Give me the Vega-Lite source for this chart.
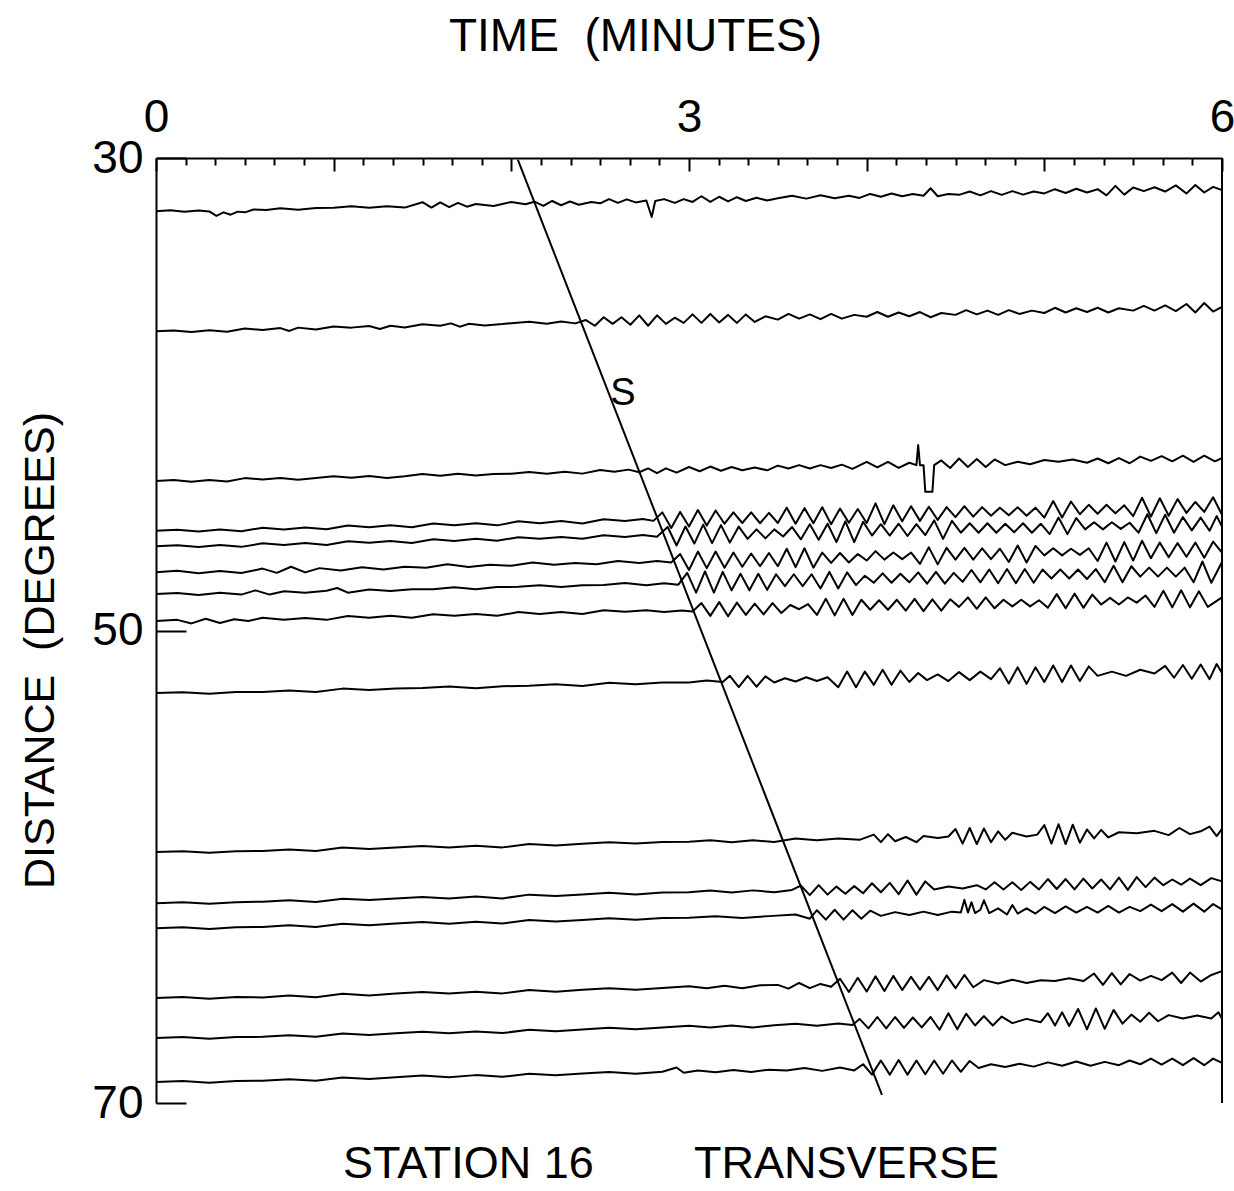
{
"$schema":"https://vega.github.io/schema/vega-lite/v6.json",
"width":1066,"height":945,
"autosize":{"type":"none"},
"padding":{"left":156,"top":158,"right":12,"bottom":88},
"background":"white",
"config":{"view":{"stroke":null},"font":"Liberation Sans","axis":{"grid":false,"domainColor":"black","tickColor":"black","labelColor":"black","titleColor":"black","labelFont":"Liberation Sans","titleFont":"Liberation Sans","titleFontWeight":"normal"}},
"title":{"text":"STATION 16\u00a0\u00a0\u00a0\u00a0\u00a0\u00a0\u00a0\u00a0TRANSVERSE","orient":"bottom","anchor":"middle","frame":"group","offset":52,"baseline":"alphabetic","fontSize":45,"font":"Liberation Sans","fontWeight":"normal","color":"black","dx":-18},
"data":{"values":[
{"k":1,"t":0,"d":32.25},{"k":1,"t":0.08,"d":32.21},{"k":1,"t":0.16,"d":32.28},{"k":1,"t":0.24,"d":32.22},{"k":1,"t":0.3,"d":32.26},{"k":1,"t":0.34,"d":32.45},{"k":1,"t":0.38,"d":32.3},{"k":1,"t":0.42,"d":32.4},{"k":1,"t":0.46,"d":32.27},{"k":1,"t":0.5,"d":32.3},{"k":1,"t":0.55,"d":32.18},{"k":1,"t":0.62,"d":32.2},{"k":1,"t":0.7,"d":32.13},{"k":1,"t":0.8,"d":32.19},{"k":1,"t":0.9,"d":32.12},{"k":1,"t":1,"d":32.11},{"k":1,"t":1.1,"d":32.04},{"k":1,"t":1.2,"d":32.11},{"k":1,"t":1.3,"d":32.04},{"k":1,"t":1.4,"d":32.1},{"k":1,"t":1.5,"d":31.87},{"k":1,"t":1.55,"d":32.1},{"k":1,"t":1.6,"d":31.88},{"k":1,"t":1.65,"d":32.08},{"k":1,"t":1.7,"d":31.9},{"k":1,"t":1.75,"d":32.06},{"k":1,"t":1.8,"d":31.95},{"k":1,"t":1.9,"d":32.03},{"k":1,"t":2,"d":31.86},{"k":1,"t":2.08,"d":31.96},{"k":1,"t":2.13,"d":31.85},{"k":1,"t":2.18,"d":32.03},{"k":1,"t":2.23,"d":31.82},{"k":1,"t":2.28,"d":32},{"k":1,"t":2.33,"d":31.84},{"k":1,"t":2.38,"d":31.98},{"k":1,"t":2.45,"d":31.86},{"k":1,"t":2.5,"d":31.92},{"k":1,"t":2.55,"d":31.74},{"k":1,"t":2.6,"d":31.9},{"k":1,"t":2.65,"d":31.75},{"k":1,"t":2.7,"d":31.88},{"k":1,"t":2.76,"d":31.8},{"k":1,"t":2.79,"d":32.5},{"k":1,"t":2.81,"d":31.82},{"k":1,"t":2.86,"d":31.74},{"k":1,"t":2.92,"d":31.9},{"k":1,"t":2.97,"d":31.74},{"k":1,"t":3.02,"d":31.86},{"k":1,"t":3.07,"d":31.62},{"k":1,"t":3.12,"d":31.86},{"k":1,"t":3.17,"d":31.64},{"k":1,"t":3.22,"d":31.84},{"k":1,"t":3.27,"d":31.66},{"k":1,"t":3.32,"d":31.82},{"k":1,"t":3.38,"d":31.68},{"k":1,"t":3.44,"d":31.8},{"k":1,"t":3.5,"d":31.7},{"k":1,"t":3.58,"d":31.6},{"k":1,"t":3.66,"d":31.72},{"k":1,"t":3.74,"d":31.58},{"k":1,"t":3.82,"d":31.7},{"k":1,"t":3.9,"d":31.6},{"k":1,"t":3.96,"d":31.69},{"k":1,"t":4.02,"d":31.52},{"k":1,"t":4.08,"d":31.64},{"k":1,"t":4.14,"d":31.5},{"k":1,"t":4.2,"d":31.62},{"k":1,"t":4.26,"d":31.52},{"k":1,"t":4.32,"d":31.6},{"k":1,"t":4.36,"d":31.28},{"k":1,"t":4.4,"d":31.62},{"k":1,"t":4.46,"d":31.52},{"k":1,"t":4.52,"d":31.56},{"k":1,"t":4.58,"d":31.42},{"k":1,"t":4.64,"d":31.58},{"k":1,"t":4.7,"d":31.4},{"k":1,"t":4.76,"d":31.56},{"k":1,"t":4.82,"d":31.4},{"k":1,"t":4.88,"d":31.55},{"k":1,"t":4.94,"d":31.42},{"k":1,"t":5,"d":31.5},{"k":1,"t":5.06,"d":31.32},{"k":1,"t":5.12,"d":31.48},{"k":1,"t":5.18,"d":31.3},{"k":1,"t":5.24,"d":31.46},{"k":1,"t":5.3,"d":31.32},{"k":1,"t":5.35,"d":31.58},{"k":1,"t":5.4,"d":31.18},{"k":1,"t":5.45,"d":31.55},{"k":1,"t":5.5,"d":31.25},{"k":1,"t":5.56,"d":31.4},{"k":1,"t":5.62,"d":31.24},{"k":1,"t":5.68,"d":31.42},{"k":1,"t":5.74,"d":31.16},{"k":1,"t":5.8,"d":31.5},{"k":1,"t":5.85,"d":31.14},{"k":1,"t":5.9,"d":31.46},{"k":1,"t":5.95,"d":31.22},{"k":1,"t":6,"d":31.36},
{"k":2,"t":0,"d":37.33},{"k":2,"t":0.1,"d":37.3},{"k":2,"t":0.2,"d":37.36},{"k":2,"t":0.3,"d":37.29},{"k":2,"t":0.4,"d":37.35},{"k":2,"t":0.5,"d":37.22},{"k":2,"t":0.6,"d":37.28},{"k":2,"t":0.7,"d":37.2},{"k":2,"t":0.75,"d":37.32},{"k":2,"t":0.8,"d":37.18},{"k":2,"t":0.9,"d":37.26},{"k":2,"t":1,"d":37.13},{"k":2,"t":1.1,"d":37.18},{"k":2,"t":1.2,"d":37.11},{"k":2,"t":1.26,"d":37.24},{"k":2,"t":1.32,"d":37.1},{"k":2,"t":1.4,"d":37.17},{"k":2,"t":1.5,"d":37.04},{"k":2,"t":1.6,"d":37.1},{"k":2,"t":1.66,"d":37},{"k":2,"t":1.71,"d":37.14},{"k":2,"t":1.76,"d":37.02},{"k":2,"t":1.85,"d":37.09},{"k":2,"t":1.95,"d":37.03},{"k":2,"t":2,"d":36.99},{"k":2,"t":2.1,"d":36.93},{"k":2,"t":2.2,"d":37.02},{"k":2,"t":2.28,"d":36.92},{"k":2,"t":2.36,"d":37},{"k":2,"t":2.42,"d":36.86},{"k":2,"t":2.47,"d":37.1},{"k":2,"t":2.52,"d":36.74},{"k":2,"t":2.57,"d":37.02},{"k":2,"t":2.62,"d":36.74},{"k":2,"t":2.67,"d":37.06},{"k":2,"t":2.72,"d":36.66},{"k":2,"t":2.77,"d":37.1},{"k":2,"t":2.82,"d":36.66},{"k":2,"t":2.87,"d":37.02},{"k":2,"t":2.92,"d":36.76},{"k":2,"t":2.97,"d":36.98},{"k":2,"t":3.02,"d":36.62},{"k":2,"t":3.07,"d":36.98},{"k":2,"t":3.12,"d":36.6},{"k":2,"t":3.17,"d":36.96},{"k":2,"t":3.22,"d":36.64},{"k":2,"t":3.27,"d":36.98},{"k":2,"t":3.32,"d":36.62},{"k":2,"t":3.37,"d":36.94},{"k":2,"t":3.43,"d":36.7},{"k":2,"t":3.5,"d":36.84},{"k":2,"t":3.56,"d":36.6},{"k":2,"t":3.62,"d":36.8},{"k":2,"t":3.68,"d":36.62},{"k":2,"t":3.74,"d":36.82},{"k":2,"t":3.8,"d":36.6},{"k":2,"t":3.86,"d":36.8},{"k":2,"t":3.93,"d":36.64},{"k":2,"t":4,"d":36.72},{"k":2,"t":4.06,"d":36.52},{"k":2,"t":4.12,"d":36.72},{"k":2,"t":4.18,"d":36.54},{"k":2,"t":4.24,"d":36.7},{"k":2,"t":4.3,"d":36.52},{"k":2,"t":4.36,"d":36.74},{"k":2,"t":4.42,"d":36.56},{"k":2,"t":4.5,"d":36.64},{"k":2,"t":4.56,"d":36.44},{"k":2,"t":4.62,"d":36.62},{"k":2,"t":4.68,"d":36.46},{"k":2,"t":4.74,"d":36.64},{"k":2,"t":4.8,"d":36.44},{"k":2,"t":4.86,"d":36.6},{"k":2,"t":4.93,"d":36.46},{"k":2,"t":5,"d":36.56},{"k":2,"t":5.06,"d":36.34},{"k":2,"t":5.12,"d":36.54},{"k":2,"t":5.18,"d":36.36},{"k":2,"t":5.24,"d":36.52},{"k":2,"t":5.3,"d":36.34},{"k":2,"t":5.36,"d":36.54},{"k":2,"t":5.42,"d":36.36},{"k":2,"t":5.5,"d":36.46},{"k":2,"t":5.56,"d":36.26},{"k":2,"t":5.62,"d":36.46},{"k":2,"t":5.68,"d":36.24},{"k":2,"t":5.74,"d":36.48},{"k":2,"t":5.8,"d":36.18},{"k":2,"t":5.85,"d":36.54},{"k":2,"t":5.9,"d":36.14},{"k":2,"t":5.95,"d":36.5},{"k":2,"t":6,"d":36.3},
{"k":3,"t":0,"d":43.67},{"k":3,"t":0.1,"d":43.63},{"k":3,"t":0.2,"d":43.7},{"k":3,"t":0.3,"d":43.63},{"k":3,"t":0.4,"d":43.69},{"k":3,"t":0.5,"d":43.55},{"k":3,"t":0.6,"d":43.61},{"k":3,"t":0.7,"d":43.54},{"k":3,"t":0.8,"d":43.62},{"k":3,"t":0.9,"d":43.55},{"k":3,"t":1,"d":43.47},{"k":3,"t":1.1,"d":43.53},{"k":3,"t":1.2,"d":43.46},{"k":3,"t":1.3,"d":43.54},{"k":3,"t":1.4,"d":43.47},{"k":3,"t":1.5,"d":43.38},{"k":3,"t":1.6,"d":43.45},{"k":3,"t":1.7,"d":43.37},{"k":3,"t":1.8,"d":43.44},{"k":3,"t":1.9,"d":43.38},{"k":3,"t":2,"d":43.36},{"k":3,"t":2.1,"d":43.29},{"k":3,"t":2.2,"d":43.37},{"k":3,"t":2.3,"d":43.28},{"k":3,"t":2.4,"d":43.36},{"k":3,"t":2.5,"d":43.21},{"k":3,"t":2.58,"d":43.28},{"k":3,"t":2.66,"d":43.19},{"k":3,"t":2.72,"d":43.3},{"k":3,"t":2.77,"d":43.14},{"k":3,"t":2.82,"d":43.34},{"k":3,"t":2.87,"d":43.14},{"k":3,"t":2.93,"d":43.32},{"k":3,"t":3,"d":43.08},{"k":3,"t":3.06,"d":43.26},{"k":3,"t":3.12,"d":43.06},{"k":3,"t":3.18,"d":43.24},{"k":3,"t":3.24,"d":43.08},{"k":3,"t":3.3,"d":43.22},{"k":3,"t":3.37,"d":43.1},{"k":3,"t":3.44,"d":43.22},{"k":3,"t":3.5,"d":43.02},{"k":3,"t":3.56,"d":43.14},{"k":3,"t":3.62,"d":43},{"k":3,"t":3.68,"d":43.14},{"k":3,"t":3.74,"d":43},{"k":3,"t":3.8,"d":43.12},{"k":3,"t":3.86,"d":42.98},{"k":3,"t":3.92,"d":43.16},{"k":3,"t":4,"d":42.86},{"k":3,"t":4.06,"d":43.1},{"k":3,"t":4.12,"d":42.86},{"k":3,"t":4.18,"d":43.12},{"k":3,"t":4.24,"d":42.9},{"k":3,"t":4.28,"d":43},{"k":3,"t":4.29,"d":42.15},{"k":3,"t":4.3,"d":43},{"k":3,"t":4.32,"d":43},{"k":3,"t":4.33,"d":44.13},{"k":3,"t":4.37,"d":44.13},{"k":3,"t":4.38,"d":43},{"k":3,"t":4.42,"d":42.8},{"k":3,"t":4.47,"d":43.12},{"k":3,"t":4.52,"d":42.72},{"k":3,"t":4.57,"d":43.08},{"k":3,"t":4.62,"d":42.74},{"k":3,"t":4.67,"d":43.08},{"k":3,"t":4.72,"d":42.76},{"k":3,"t":4.78,"d":43},{"k":3,"t":4.85,"d":42.86},{"k":3,"t":4.92,"d":42.96},{"k":3,"t":5,"d":42.78},{"k":3,"t":5.08,"d":42.86},{"k":3,"t":5.16,"d":42.76},{"k":3,"t":5.24,"d":42.9},{"k":3,"t":5.3,"d":42.72},{"k":3,"t":5.36,"d":42.92},{"k":3,"t":5.42,"d":42.7},{"k":3,"t":5.48,"d":42.92},{"k":3,"t":5.54,"d":42.64},{"k":3,"t":5.6,"d":42.82},{"k":3,"t":5.66,"d":42.62},{"k":3,"t":5.72,"d":42.84},{"k":3,"t":5.78,"d":42.6},{"k":3,"t":5.84,"d":42.86},{"k":3,"t":5.9,"d":42.6},{"k":3,"t":5.96,"d":42.84},{"k":3,"t":6,"d":42.7},
{"k":4,"t":0,"d":45.78},{"k":4,"t":0.12,"d":45.74},{"k":4,"t":0.24,"d":45.81},{"k":4,"t":0.36,"d":45.73},{"k":4,"t":0.48,"d":45.8},{"k":4,"t":0.6,"d":45.65},{"k":4,"t":0.72,"d":45.72},{"k":4,"t":0.84,"d":45.64},{"k":4,"t":0.96,"d":45.71},{"k":4,"t":1.08,"d":45.56},{"k":4,"t":1.2,"d":45.63},{"k":4,"t":1.32,"d":45.55},{"k":4,"t":1.44,"d":45.63},{"k":4,"t":1.56,"d":45.47},{"k":4,"t":1.68,"d":45.54},{"k":4,"t":1.8,"d":45.46},{"k":4,"t":1.92,"d":45.55},{"k":4,"t":2.04,"d":45.38},{"k":4,"t":2.16,"d":45.46},{"k":4,"t":2.28,"d":45.37},{"k":4,"t":2.4,"d":45.47},{"k":4,"t":2.52,"d":45.29},{"k":4,"t":2.64,"d":45.37},{"k":4,"t":2.74,"d":45.28},{"k":4,"t":2.8,"d":45.36},{"k":4,"t":2.85,"d":45},{"k":4,"t":2.9,"d":45.66},{"k":4,"t":2.95,"d":44.98},{"k":4,"t":3,"d":45.6},{"k":4,"t":3.05,"d":44.9},{"k":4,"t":3.1,"d":45.56},{"k":4,"t":3.15,"d":44.92},{"k":4,"t":3.2,"d":45.48},{"k":4,"t":3.25,"d":45},{"k":4,"t":3.3,"d":45.45},{"k":4,"t":3.35,"d":45},{"k":4,"t":3.4,"d":45.46},{"k":4,"t":3.45,"d":45.02},{"k":4,"t":3.5,"d":45.45},{"k":4,"t":3.55,"d":44.8},{"k":4,"t":3.6,"d":45.48},{"k":4,"t":3.65,"d":44.82},{"k":4,"t":3.7,"d":45.46},{"k":4,"t":3.75,"d":44.78},{"k":4,"t":3.8,"d":45.5},{"k":4,"t":3.85,"d":44.84},{"k":4,"t":3.9,"d":45.44},{"k":4,"t":3.95,"d":44.86},{"k":4,"t":4,"d":45.45},{"k":4,"t":4.05,"d":44.62},{"k":4,"t":4.1,"d":45.5},{"k":4,"t":4.15,"d":44.7},{"k":4,"t":4.2,"d":45.38},{"k":4,"t":4.25,"d":44.74},{"k":4,"t":4.3,"d":45.36},{"k":4,"t":4.35,"d":44.76},{"k":4,"t":4.4,"d":45.32},{"k":4,"t":4.45,"d":44.78},{"k":4,"t":4.5,"d":45.2},{"k":4,"t":4.55,"d":44.74},{"k":4,"t":4.6,"d":45.18},{"k":4,"t":4.65,"d":44.78},{"k":4,"t":4.7,"d":45.14},{"k":4,"t":4.75,"d":44.8},{"k":4,"t":4.8,"d":45.12},{"k":4,"t":4.85,"d":44.78},{"k":4,"t":4.9,"d":45.14},{"k":4,"t":4.95,"d":44.8},{"k":4,"t":5,"d":45.22},{"k":4,"t":5.05,"d":44.52},{"k":4,"t":5.1,"d":45.22},{"k":4,"t":5.15,"d":44.54},{"k":4,"t":5.2,"d":45.08},{"k":4,"t":5.25,"d":44.68},{"k":4,"t":5.3,"d":45.06},{"k":4,"t":5.35,"d":44.68},{"k":4,"t":5.4,"d":45.04},{"k":4,"t":5.45,"d":44.7},{"k":4,"t":5.5,"d":45.16},{"k":4,"t":5.55,"d":44.38},{"k":4,"t":5.6,"d":45.18},{"k":4,"t":5.65,"d":44.4},{"k":4,"t":5.7,"d":45.14},{"k":4,"t":5.75,"d":44.44},{"k":4,"t":5.8,"d":45.02},{"k":4,"t":5.85,"d":44.56},{"k":4,"t":5.9,"d":44.98},{"k":4,"t":5.95,"d":44.36},{"k":4,"t":6,"d":45.1},
{"k":5,"t":0,"d":46.43},{"k":5,"t":0.12,"d":46.39},{"k":5,"t":0.24,"d":46.47},{"k":5,"t":0.36,"d":46.38},{"k":5,"t":0.48,"d":46.46},{"k":5,"t":0.6,"d":46.31},{"k":5,"t":0.72,"d":46.38},{"k":5,"t":0.84,"d":46.3},{"k":5,"t":0.96,"d":46.38},{"k":5,"t":1.08,"d":46.22},{"k":5,"t":1.2,"d":46.29},{"k":5,"t":1.32,"d":46.21},{"k":5,"t":1.44,"d":46.3},{"k":5,"t":1.56,"d":46.14},{"k":5,"t":1.68,"d":46.21},{"k":5,"t":1.8,"d":46.12},{"k":5,"t":1.92,"d":46.2},{"k":5,"t":2.04,"d":46.05},{"k":5,"t":2.16,"d":46.12},{"k":5,"t":2.28,"d":46.04},{"k":5,"t":2.4,"d":46.12},{"k":5,"t":2.52,"d":45.97},{"k":5,"t":2.64,"d":46.04},{"k":5,"t":2.74,"d":45.96},{"k":5,"t":2.82,"d":46.03},{"k":5,"t":2.88,"d":45.62},{"k":5,"t":2.93,"d":46.4},{"k":5,"t":2.98,"d":45.6},{"k":5,"t":3.03,"d":46.32},{"k":5,"t":3.08,"d":45.52},{"k":5,"t":3.13,"d":46.3},{"k":5,"t":3.18,"d":45.54},{"k":5,"t":3.23,"d":46.28},{"k":5,"t":3.28,"d":45.6},{"k":5,"t":3.33,"d":46.12},{"k":5,"t":3.38,"d":45.72},{"k":5,"t":3.43,"d":46.1},{"k":5,"t":3.48,"d":45.72},{"k":5,"t":3.53,"d":46.02},{"k":5,"t":3.58,"d":45.62},{"k":5,"t":3.63,"d":46.14},{"k":5,"t":3.68,"d":45.5},{"k":5,"t":3.73,"d":46.16},{"k":5,"t":3.78,"d":45.48},{"k":5,"t":3.83,"d":46.26},{"k":5,"t":3.88,"d":45.38},{"k":5,"t":3.93,"d":46.26},{"k":5,"t":3.98,"d":45.4},{"k":5,"t":4.03,"d":45.98},{"k":5,"t":4.08,"d":45.5},{"k":5,"t":4.13,"d":45.98},{"k":5,"t":4.18,"d":45.48},{"k":5,"t":4.23,"d":46},{"k":5,"t":4.28,"d":45.5},{"k":5,"t":4.33,"d":45.96},{"k":5,"t":4.38,"d":45.34},{"k":5,"t":4.43,"d":46.12},{"k":5,"t":4.48,"d":45.36},{"k":5,"t":4.53,"d":45.86},{"k":5,"t":4.58,"d":45.46},{"k":5,"t":4.63,"d":45.86},{"k":5,"t":4.68,"d":45.46},{"k":5,"t":4.73,"d":45.86},{"k":5,"t":4.78,"d":45.48},{"k":5,"t":4.83,"d":45.84},{"k":5,"t":4.88,"d":45.46},{"k":5,"t":4.93,"d":45.86},{"k":5,"t":4.98,"d":45.48},{"k":5,"t":5.03,"d":45.92},{"k":5,"t":5.08,"d":45.22},{"k":5,"t":5.13,"d":45.92},{"k":5,"t":5.18,"d":45.24},{"k":5,"t":5.23,"d":45.72},{"k":5,"t":5.28,"d":45.42},{"k":5,"t":5.33,"d":45.72},{"k":5,"t":5.38,"d":45.42},{"k":5,"t":5.43,"d":45.7},{"k":5,"t":5.48,"d":45.44},{"k":5,"t":5.53,"d":45.86},{"k":5,"t":5.58,"d":45.08},{"k":5,"t":5.63,"d":45.88},{"k":5,"t":5.68,"d":45.1},{"k":5,"t":5.73,"d":45.86},{"k":5,"t":5.78,"d":45.2},{"k":5,"t":5.83,"d":45.76},{"k":5,"t":5.88,"d":45.22},{"k":5,"t":5.93,"d":45.78},{"k":5,"t":5.97,"d":45.16},{"k":5,"t":6,"d":45.6},
{"k":6,"t":0,"d":47.53},{"k":6,"t":0.12,"d":47.47},{"k":6,"t":0.24,"d":47.58},{"k":6,"t":0.36,"d":47.48},{"k":6,"t":0.48,"d":47.57},{"k":6,"t":0.6,"d":47.38},{"k":6,"t":0.68,"d":47.56},{"k":6,"t":0.76,"d":47.3},{"k":6,"t":0.84,"d":47.54},{"k":6,"t":0.92,"d":47.36},{"k":6,"t":1.04,"d":47.46},{"k":6,"t":1.16,"d":47.32},{"k":6,"t":1.28,"d":47.42},{"k":6,"t":1.4,"d":47.3},{"k":6,"t":1.52,"d":47.34},{"k":6,"t":1.64,"d":47.2},{"k":6,"t":1.76,"d":47.31},{"k":6,"t":1.88,"d":47.22},{"k":6,"t":2,"d":47.26},{"k":6,"t":2.12,"d":47.12},{"k":6,"t":2.24,"d":47.22},{"k":6,"t":2.36,"d":47.14},{"k":6,"t":2.48,"d":47.2},{"k":6,"t":2.6,"d":47.06},{"k":6,"t":2.72,"d":47.14},{"k":6,"t":2.82,"d":47.06},{"k":6,"t":2.9,"d":47.12},{"k":6,"t":2.95,"d":46.76},{"k":6,"t":3,"d":47.44},{"k":6,"t":3.05,"d":46.66},{"k":6,"t":3.1,"d":47.36},{"k":6,"t":3.15,"d":46.66},{"k":6,"t":3.2,"d":47.34},{"k":6,"t":3.25,"d":46.7},{"k":6,"t":3.3,"d":47.3},{"k":6,"t":3.35,"d":46.74},{"k":6,"t":3.4,"d":47.28},{"k":6,"t":3.45,"d":46.72},{"k":6,"t":3.5,"d":47.28},{"k":6,"t":3.55,"d":46.54},{"k":6,"t":3.6,"d":47.32},{"k":6,"t":3.65,"d":46.52},{"k":6,"t":3.7,"d":47.34},{"k":6,"t":3.75,"d":46.7},{"k":6,"t":3.8,"d":47.14},{"k":6,"t":3.85,"d":46.72},{"k":6,"t":3.9,"d":47.12},{"k":6,"t":3.95,"d":46.76},{"k":6,"t":4,"d":47.04},{"k":6,"t":4.05,"d":46.64},{"k":6,"t":4.1,"d":47},{"k":6,"t":4.15,"d":46.7},{"k":6,"t":4.2,"d":46.98},{"k":6,"t":4.25,"d":46.7},{"k":6,"t":4.3,"d":47.18},{"k":6,"t":4.35,"d":46.48},{"k":6,"t":4.4,"d":47.2},{"k":6,"t":4.45,"d":46.5},{"k":6,"t":4.5,"d":47},{"k":6,"t":4.55,"d":46.5},{"k":6,"t":4.6,"d":47},{"k":6,"t":4.65,"d":46.52},{"k":6,"t":4.7,"d":46.98},{"k":6,"t":4.75,"d":46.54},{"k":6,"t":4.8,"d":47.1},{"k":6,"t":4.85,"d":46.4},{"k":6,"t":4.9,"d":47.12},{"k":6,"t":4.95,"d":46.42},{"k":6,"t":5,"d":46.82},{"k":6,"t":5.05,"d":46.52},{"k":6,"t":5.1,"d":46.82},{"k":6,"t":5.15,"d":46.54},{"k":6,"t":5.2,"d":46.8},{"k":6,"t":5.25,"d":46.52},{"k":6,"t":5.3,"d":47.06},{"k":6,"t":5.35,"d":46.28},{"k":6,"t":5.4,"d":47.08},{"k":6,"t":5.45,"d":46.26},{"k":6,"t":5.5,"d":47.04},{"k":6,"t":5.55,"d":46.2},{"k":6,"t":5.6,"d":46.94},{"k":6,"t":5.65,"d":46.28},{"k":6,"t":5.7,"d":46.9},{"k":6,"t":5.75,"d":46.3},{"k":6,"t":5.8,"d":46.88},{"k":6,"t":5.85,"d":46.28},{"k":6,"t":5.9,"d":46.92},{"k":6,"t":5.95,"d":46.24},{"k":6,"t":6,"d":46.7},
{"k":7,"t":0,"d":48.46},{"k":7,"t":0.12,"d":48.41},{"k":7,"t":0.24,"d":48.5},{"k":7,"t":0.36,"d":48.4},{"k":7,"t":0.48,"d":48.48},{"k":7,"t":0.56,"d":48.3},{"k":7,"t":0.64,"d":48.48},{"k":7,"t":0.72,"d":48.34},{"k":7,"t":0.84,"d":48.4},{"k":7,"t":0.96,"d":48.32},{"k":7,"t":1.02,"d":48.2},{"k":7,"t":1.08,"d":48.4},{"k":7,"t":1.2,"d":48.26},{"k":7,"t":1.32,"d":48.33},{"k":7,"t":1.44,"d":48.25},{"k":7,"t":1.56,"d":48.25},{"k":7,"t":1.68,"d":48.17},{"k":7,"t":1.8,"d":48.25},{"k":7,"t":1.92,"d":48.16},{"k":7,"t":2.04,"d":48.15},{"k":7,"t":2.16,"d":48.08},{"k":7,"t":2.28,"d":48.16},{"k":7,"t":2.4,"d":48.08},{"k":7,"t":2.52,"d":48.07},{"k":7,"t":2.64,"d":47.99},{"k":7,"t":2.76,"d":48.08},{"k":7,"t":2.86,"d":48},{"k":7,"t":2.94,"d":48.06},{"k":7,"t":2.99,"d":47.56},{"k":7,"t":3.04,"d":48.4},{"k":7,"t":3.09,"d":47.5},{"k":7,"t":3.14,"d":48.4},{"k":7,"t":3.19,"d":47.52},{"k":7,"t":3.24,"d":48.3},{"k":7,"t":3.29,"d":47.6},{"k":7,"t":3.34,"d":48.3},{"k":7,"t":3.39,"d":47.6},{"k":7,"t":3.44,"d":48.28},{"k":7,"t":3.49,"d":47.62},{"k":7,"t":3.54,"d":48.12},{"k":7,"t":3.59,"d":47.62},{"k":7,"t":3.64,"d":48.12},{"k":7,"t":3.69,"d":47.62},{"k":7,"t":3.74,"d":48.22},{"k":7,"t":3.79,"d":47.52},{"k":7,"t":3.84,"d":48.22},{"k":7,"t":3.89,"d":47.54},{"k":7,"t":3.94,"d":48.08},{"k":7,"t":3.99,"d":47.68},{"k":7,"t":4.04,"d":47.98},{"k":7,"t":4.09,"d":47.58},{"k":7,"t":4.14,"d":47.98},{"k":7,"t":4.19,"d":47.6},{"k":7,"t":4.24,"d":47.96},{"k":7,"t":4.29,"d":47.54},{"k":7,"t":4.34,"d":48.02},{"k":7,"t":4.39,"d":47.52},{"k":7,"t":4.44,"d":48.02},{"k":7,"t":4.49,"d":47.56},{"k":7,"t":4.54,"d":47.94},{"k":7,"t":4.59,"d":47.44},{"k":7,"t":4.64,"d":47.96},{"k":7,"t":4.69,"d":47.42},{"k":7,"t":4.74,"d":48},{"k":7,"t":4.79,"d":47.4},{"k":7,"t":4.84,"d":48},{"k":7,"t":4.89,"d":47.4},{"k":7,"t":4.94,"d":47.98},{"k":7,"t":4.99,"d":47.42},{"k":7,"t":5.04,"d":47.8},{"k":7,"t":5.09,"d":47.42},{"k":7,"t":5.14,"d":47.8},{"k":7,"t":5.19,"d":47.42},{"k":7,"t":5.24,"d":47.82},{"k":7,"t":5.29,"d":47.4},{"k":7,"t":5.34,"d":47.96},{"k":7,"t":5.39,"d":47.26},{"k":7,"t":5.44,"d":47.96},{"k":7,"t":5.49,"d":47.28},{"k":7,"t":5.54,"d":47.72},{"k":7,"t":5.59,"d":47.34},{"k":7,"t":5.64,"d":47.72},{"k":7,"t":5.69,"d":47.34},{"k":7,"t":5.74,"d":47.72},{"k":7,"t":5.79,"d":47.34},{"k":7,"t":5.84,"d":47.96},{"k":7,"t":5.89,"d":47.08},{"k":7,"t":5.94,"d":47.98},{"k":7,"t":6,"d":47.1},
{"k":8,"t":0,"d":49.6},{"k":8,"t":0.12,"d":49.55},{"k":8,"t":0.2,"d":49.7},{"k":8,"t":0.28,"d":49.5},{"k":8,"t":0.36,"d":49.68},{"k":8,"t":0.44,"d":49.52},{"k":8,"t":0.52,"d":49.6},{"k":8,"t":0.6,"d":49.46},{"k":8,"t":0.72,"d":49.54},{"k":8,"t":0.84,"d":49.47},{"k":8,"t":0.96,"d":49.55},{"k":8,"t":1.08,"d":49.39},{"k":8,"t":1.2,"d":49.46},{"k":8,"t":1.32,"d":49.38},{"k":8,"t":1.44,"d":49.46},{"k":8,"t":1.56,"d":49.31},{"k":8,"t":1.68,"d":49.38},{"k":8,"t":1.8,"d":49.3},{"k":8,"t":1.92,"d":49.38},{"k":8,"t":2.04,"d":49.22},{"k":8,"t":2.16,"d":49.3},{"k":8,"t":2.28,"d":49.22},{"k":8,"t":2.4,"d":49.3},{"k":8,"t":2.52,"d":49.14},{"k":8,"t":2.64,"d":49.21},{"k":8,"t":2.76,"d":49.14},{"k":8,"t":2.86,"d":49.22},{"k":8,"t":2.96,"d":49.15},{"k":8,"t":3.02,"d":49.2},{"k":8,"t":3.07,"d":48.84},{"k":8,"t":3.12,"d":49.38},{"k":8,"t":3.17,"d":48.8},{"k":8,"t":3.22,"d":49.4},{"k":8,"t":3.27,"d":48.82},{"k":8,"t":3.32,"d":49.34},{"k":8,"t":3.37,"d":48.86},{"k":8,"t":3.42,"d":49.32},{"k":8,"t":3.47,"d":48.84},{"k":8,"t":3.52,"d":49.26},{"k":8,"t":3.57,"d":48.92},{"k":8,"t":3.62,"d":49.1},{"k":8,"t":3.67,"d":48.88},{"k":8,"t":3.72,"d":49.34},{"k":8,"t":3.77,"d":48.66},{"k":8,"t":3.82,"d":49.36},{"k":8,"t":3.87,"d":48.66},{"k":8,"t":3.92,"d":49.34},{"k":8,"t":3.97,"d":48.7},{"k":8,"t":4.02,"d":49.12},{"k":8,"t":4.07,"d":48.72},{"k":8,"t":4.12,"d":49.12},{"k":8,"t":4.17,"d":48.7},{"k":8,"t":4.22,"d":49.16},{"k":8,"t":4.27,"d":48.66},{"k":8,"t":4.32,"d":49.18},{"k":8,"t":4.37,"d":48.68},{"k":8,"t":4.42,"d":49.16},{"k":8,"t":4.47,"d":48.68},{"k":8,"t":4.52,"d":49},{"k":8,"t":4.57,"d":48.6},{"k":8,"t":4.62,"d":49.08},{"k":8,"t":4.67,"d":48.6},{"k":8,"t":4.72,"d":49.06},{"k":8,"t":4.77,"d":48.7},{"k":8,"t":4.82,"d":48.98},{"k":8,"t":4.87,"d":48.7},{"k":8,"t":4.92,"d":48.98},{"k":8,"t":4.97,"d":48.72},{"k":8,"t":5.02,"d":49.04},{"k":8,"t":5.07,"d":48.46},{"k":8,"t":5.12,"d":49.06},{"k":8,"t":5.17,"d":48.44},{"k":8,"t":5.22,"d":49.04},{"k":8,"t":5.27,"d":48.48},{"k":8,"t":5.32,"d":48.9},{"k":8,"t":5.37,"d":48.62},{"k":8,"t":5.42,"d":48.9},{"k":8,"t":5.47,"d":48.6},{"k":8,"t":5.52,"d":48.82},{"k":8,"t":5.57,"d":48.52},{"k":8,"t":5.62,"d":49},{"k":8,"t":5.67,"d":48.32},{"k":8,"t":5.72,"d":49.02},{"k":8,"t":5.77,"d":48.3},{"k":8,"t":5.82,"d":49.02},{"k":8,"t":5.87,"d":48.34},{"k":8,"t":5.92,"d":49},{"k":8,"t":6,"d":48.6},
{"k":9,"t":0,"d":52.65},{"k":9,"t":0.15,"d":52.61},{"k":9,"t":0.3,"d":52.68},{"k":9,"t":0.45,"d":52.6},{"k":9,"t":0.6,"d":52.6},{"k":9,"t":0.75,"d":52.54},{"k":9,"t":0.9,"d":52.6},{"k":9,"t":1.05,"d":52.46},{"k":9,"t":1.2,"d":52.52},{"k":9,"t":1.35,"d":52.45},{"k":9,"t":1.5,"d":52.43},{"k":9,"t":1.65,"d":52.37},{"k":9,"t":1.8,"d":52.44},{"k":9,"t":1.95,"d":52.36},{"k":9,"t":2.1,"d":52.34},{"k":9,"t":2.25,"d":52.28},{"k":9,"t":2.4,"d":52.35},{"k":9,"t":2.55,"d":52.21},{"k":9,"t":2.7,"d":52.27},{"k":9,"t":2.85,"d":52.2},{"k":9,"t":3,"d":52.2},{"k":9,"t":3.1,"d":52.12},{"k":9,"t":3.19,"d":52.18},{"k":9,"t":3.23,"d":51.92},{"k":9,"t":3.28,"d":52.4},{"k":9,"t":3.33,"d":51.92},{"k":9,"t":3.38,"d":52.38},{"k":9,"t":3.43,"d":51.94},{"k":9,"t":3.48,"d":52.2},{"k":9,"t":3.54,"d":52.02},{"k":9,"t":3.6,"d":52.16},{"k":9,"t":3.66,"d":51.98},{"k":9,"t":3.72,"d":52.14},{"k":9,"t":3.78,"d":51.98},{"k":9,"t":3.84,"d":52.4},{"k":9,"t":3.89,"d":51.74},{"k":9,"t":3.94,"d":52.4},{"k":9,"t":3.99,"d":51.74},{"k":9,"t":4.04,"d":52.3},{"k":9,"t":4.09,"d":51.66},{"k":9,"t":4.14,"d":52.3},{"k":9,"t":4.19,"d":51.7},{"k":9,"t":4.24,"d":52.18},{"k":9,"t":4.29,"d":51.8},{"k":9,"t":4.34,"d":52.1},{"k":9,"t":4.4,"d":51.86},{"k":9,"t":4.46,"d":52.14},{"k":9,"t":4.52,"d":51.76},{"k":9,"t":4.58,"d":52.1},{"k":9,"t":4.64,"d":51.74},{"k":9,"t":4.7,"d":52.06},{"k":9,"t":4.75,"d":51.6},{"k":9,"t":4.8,"d":52.24},{"k":9,"t":4.85,"d":51.56},{"k":9,"t":4.9,"d":52.26},{"k":9,"t":4.95,"d":51.56},{"k":9,"t":5,"d":52.18},{"k":9,"t":5.05,"d":51.48},{"k":9,"t":5.1,"d":52.18},{"k":9,"t":5.15,"d":51.48},{"k":9,"t":5.2,"d":52.14},{"k":9,"t":5.25,"d":51.52},{"k":9,"t":5.3,"d":51.92},{"k":9,"t":5.38,"d":51.74},{"k":9,"t":5.46,"d":51.92},{"k":9,"t":5.54,"d":51.66},{"k":9,"t":5.62,"d":51.82},{"k":9,"t":5.68,"d":51.5},{"k":9,"t":5.73,"d":52},{"k":9,"t":5.78,"d":51.46},{"k":9,"t":5.83,"d":52.04},{"k":9,"t":5.88,"d":51.44},{"k":9,"t":5.93,"d":52.06},{"k":9,"t":5.97,"d":51.42},{"k":9,"t":6,"d":51.8},
{"k":10,"t":0,"d":59.38},{"k":10,"t":0.15,"d":59.34},{"k":10,"t":0.3,"d":59.41},{"k":10,"t":0.45,"d":59.34},{"k":10,"t":0.6,"d":59.33},{"k":10,"t":0.75,"d":59.27},{"k":10,"t":0.9,"d":59.33},{"k":10,"t":1.05,"d":59.19},{"k":10,"t":1.2,"d":59.25},{"k":10,"t":1.35,"d":59.18},{"k":10,"t":1.5,"d":59.12},{"k":10,"t":1.65,"d":59.18},{"k":10,"t":1.8,"d":59.11},{"k":10,"t":1.95,"d":59.18},{"k":10,"t":2.1,"d":59.04},{"k":10,"t":2.25,"d":59.1},{"k":10,"t":2.4,"d":59.03},{"k":10,"t":2.55,"d":58.96},{"k":10,"t":2.7,"d":59.02},{"k":10,"t":2.85,"d":58.95},{"k":10,"t":3,"d":58.94},{"k":10,"t":3.12,"d":58.88},{"k":10,"t":3.24,"d":58.96},{"k":10,"t":3.36,"d":58.88},{"k":10,"t":3.48,"d":58.95},{"k":10,"t":3.6,"d":58.8},{"k":10,"t":3.72,"d":58.88},{"k":10,"t":3.84,"d":58.8},{"k":10,"t":3.96,"d":58.86},{"k":10,"t":4.04,"d":58.64},{"k":10,"t":4.08,"d":58.96},{"k":10,"t":4.12,"d":58.62},{"k":10,"t":4.16,"d":58.92},{"k":10,"t":4.22,"d":58.74},{"k":10,"t":4.28,"d":58.96},{"k":10,"t":4.32,"d":58.7},{"k":10,"t":4.4,"d":58.78},{"k":10,"t":4.46,"d":58.72},{"k":10,"t":4.5,"d":58.4},{"k":10,"t":4.54,"d":59.02},{"k":10,"t":4.58,"d":58.36},{"k":10,"t":4.62,"d":59.04},{"k":10,"t":4.66,"d":58.38},{"k":10,"t":4.7,"d":58.96},{"k":10,"t":4.74,"d":58.5},{"k":10,"t":4.78,"d":58.86},{"k":10,"t":4.82,"d":58.56},{"k":10,"t":4.9,"d":58.72},{"k":10,"t":4.96,"d":58.64},{"k":10,"t":5,"d":58.24},{"k":10,"t":5.04,"d":59.02},{"k":10,"t":5.08,"d":58.2},{"k":10,"t":5.12,"d":59.04},{"k":10,"t":5.16,"d":58.22},{"k":10,"t":5.2,"d":58.98},{"k":10,"t":5.24,"d":58.42},{"k":10,"t":5.28,"d":58.8},{"k":10,"t":5.32,"d":58.44},{"k":10,"t":5.36,"d":58.76},{"k":10,"t":5.42,"d":58.54},{"k":10,"t":5.52,"d":58.58},{"k":10,"t":5.62,"d":58.48},{"k":10,"t":5.7,"d":58.66},{"k":10,"t":5.76,"d":58.36},{"k":10,"t":5.82,"d":58.62},{"k":10,"t":5.88,"d":58.5},{"k":10,"t":5.93,"d":58.3},{"k":10,"t":5.97,"d":58.7},{"k":10,"t":6,"d":58.4},
{"k":11,"t":0,"d":61.54},{"k":11,"t":0.15,"d":61.5},{"k":11,"t":0.3,"d":61.57},{"k":11,"t":0.45,"d":61.5},{"k":11,"t":0.6,"d":61.48},{"k":11,"t":0.75,"d":61.42},{"k":11,"t":0.9,"d":61.49},{"k":11,"t":1.05,"d":61.35},{"k":11,"t":1.2,"d":61.41},{"k":11,"t":1.35,"d":61.34},{"k":11,"t":1.5,"d":61.28},{"k":11,"t":1.65,"d":61.34},{"k":11,"t":1.8,"d":61.26},{"k":11,"t":1.95,"d":61.34},{"k":11,"t":2.1,"d":61.18},{"k":11,"t":2.25,"d":61.24},{"k":11,"t":2.4,"d":61.17},{"k":11,"t":2.55,"d":61.1},{"k":11,"t":2.7,"d":61.17},{"k":11,"t":2.85,"d":61.09},{"k":11,"t":3,"d":61.08},{"k":11,"t":3.12,"d":61.01},{"k":11,"t":3.24,"d":61.09},{"k":11,"t":3.36,"d":61},{"k":11,"t":3.48,"d":61.08},{"k":11,"t":3.58,"d":60.98},{"k":11,"t":3.63,"d":60.8},{"k":11,"t":3.68,"d":61.2},{"k":11,"t":3.73,"d":60.78},{"k":11,"t":3.78,"d":61.18},{"k":11,"t":3.83,"d":60.84},{"k":11,"t":3.88,"d":61.14},{"k":11,"t":3.93,"d":60.82},{"k":11,"t":3.98,"d":61.12},{"k":11,"t":4.03,"d":60.7},{"k":11,"t":4.08,"d":61.08},{"k":11,"t":4.13,"d":60.68},{"k":11,"t":4.18,"d":61.16},{"k":11,"t":4.23,"d":60.58},{"k":11,"t":4.28,"d":61.18},{"k":11,"t":4.33,"d":60.62},{"k":11,"t":4.38,"d":60.96},{"k":11,"t":4.46,"d":60.84},{"k":11,"t":4.54,"d":60.92},{"k":11,"t":4.62,"d":60.78},{"k":11,"t":4.67,"d":60.96},{"k":11,"t":4.72,"d":60.66},{"k":11,"t":4.77,"d":60.96},{"k":11,"t":4.82,"d":60.66},{"k":11,"t":4.87,"d":60.98},{"k":11,"t":4.92,"d":60.64},{"k":11,"t":4.97,"d":60.96},{"k":11,"t":5.02,"d":60.52},{"k":11,"t":5.07,"d":60.94},{"k":11,"t":5.12,"d":60.52},{"k":11,"t":5.17,"d":60.96},{"k":11,"t":5.22,"d":60.5},{"k":11,"t":5.27,"d":60.92},{"k":11,"t":5.32,"d":60.54},{"k":11,"t":5.37,"d":60.96},{"k":11,"t":5.42,"d":60.46},{"k":11,"t":5.47,"d":60.98},{"k":11,"t":5.52,"d":60.44},{"k":11,"t":5.57,"d":60.86},{"k":11,"t":5.62,"d":60.46},{"k":11,"t":5.67,"d":60.78},{"k":11,"t":5.72,"d":60.54},{"k":11,"t":5.77,"d":60.76},{"k":11,"t":5.82,"d":60.5},{"k":11,"t":5.88,"d":60.78},{"k":11,"t":5.94,"d":60.48},{"k":11,"t":6,"d":60.62},
{"k":12,"t":0,"d":62.6},{"k":12,"t":0.15,"d":62.56},{"k":12,"t":0.3,"d":62.63},{"k":12,"t":0.45,"d":62.56},{"k":12,"t":0.6,"d":62.55},{"k":12,"t":0.75,"d":62.48},{"k":12,"t":0.9,"d":62.55},{"k":12,"t":1.05,"d":62.41},{"k":12,"t":1.2,"d":62.48},{"k":12,"t":1.35,"d":62.4},{"k":12,"t":1.5,"d":62.34},{"k":12,"t":1.65,"d":62.41},{"k":12,"t":1.8,"d":62.33},{"k":12,"t":1.95,"d":62.4},{"k":12,"t":2.1,"d":62.25},{"k":12,"t":2.25,"d":62.32},{"k":12,"t":2.4,"d":62.25},{"k":12,"t":2.55,"d":62.18},{"k":12,"t":2.7,"d":62.24},{"k":12,"t":2.85,"d":62.17},{"k":12,"t":3,"d":62.16},{"k":12,"t":3.15,"d":62.1},{"k":12,"t":3.3,"d":62.17},{"k":12,"t":3.45,"d":62.09},{"k":12,"t":3.6,"d":62.02},{"k":12,"t":3.68,"d":62.2},{"k":12,"t":3.72,"d":61.84},{"k":12,"t":3.77,"d":62.24},{"k":12,"t":3.82,"d":61.82},{"k":12,"t":3.87,"d":62.24},{"k":12,"t":3.92,"d":61.84},{"k":12,"t":3.97,"d":62.2},{"k":12,"t":4.02,"d":61.86},{"k":12,"t":4.08,"d":62.08},{"k":12,"t":4.16,"d":61.92},{"k":12,"t":4.24,"d":62.04},{"k":12,"t":4.32,"d":61.9},{"k":12,"t":4.4,"d":62.04},{"k":12,"t":4.48,"d":61.9},{"k":12,"t":4.53,"d":61.94},{"k":12,"t":4.55,"d":61.4},{"k":12,"t":4.57,"d":61.94},{"k":12,"t":4.59,"d":61.5},{"k":12,"t":4.61,"d":61.96},{"k":12,"t":4.64,"d":61.82},{"k":12,"t":4.66,"d":61.42},{"k":12,"t":4.69,"d":61.96},{"k":12,"t":4.74,"d":61.76},{"k":12,"t":4.79,"d":62.02},{"k":12,"t":4.82,"d":61.62},{"k":12,"t":4.85,"d":61.98},{"k":12,"t":4.9,"d":61.76},{"k":12,"t":4.95,"d":61.98},{"k":12,"t":5,"d":61.7},{"k":12,"t":5.06,"d":61.96},{"k":12,"t":5.12,"d":61.68},{"k":12,"t":5.18,"d":61.94},{"k":12,"t":5.24,"d":61.7},{"k":12,"t":5.3,"d":61.94},{"k":12,"t":5.36,"d":61.66},{"k":12,"t":5.42,"d":61.94},{"k":12,"t":5.48,"d":61.7},{"k":12,"t":5.54,"d":61.88},{"k":12,"t":5.6,"d":61.6},{"k":12,"t":5.66,"d":61.88},{"k":12,"t":5.72,"d":61.58},{"k":12,"t":5.78,"d":61.9},{"k":12,"t":5.84,"d":61.56},{"k":12,"t":5.9,"d":61.9},{"k":12,"t":5.95,"d":61.58},{"k":12,"t":6,"d":61.8},
{"k":13,"t":0,"d":65.56},{"k":13,"t":0.15,"d":65.51},{"k":13,"t":0.3,"d":65.59},{"k":13,"t":0.45,"d":65.51},{"k":13,"t":0.6,"d":65.53},{"k":13,"t":0.75,"d":65.45},{"k":13,"t":0.9,"d":65.52},{"k":13,"t":1.05,"d":65.38},{"k":13,"t":1.2,"d":65.45},{"k":13,"t":1.35,"d":65.37},{"k":13,"t":1.5,"d":65.3},{"k":13,"t":1.65,"d":65.37},{"k":13,"t":1.8,"d":65.29},{"k":13,"t":1.95,"d":65.36},{"k":13,"t":2.1,"d":65.22},{"k":13,"t":2.25,"d":65.29},{"k":13,"t":2.4,"d":65.21},{"k":13,"t":2.55,"d":65.14},{"k":13,"t":2.7,"d":65.21},{"k":13,"t":2.85,"d":65.13},{"k":13,"t":3,"d":65.06},{"k":13,"t":3.1,"d":65.14},{"k":13,"t":3.2,"d":65.04},{"k":13,"t":3.3,"d":65.14},{"k":13,"t":3.4,"d":65.02},{"k":13,"t":3.5,"d":65},{"k":13,"t":3.56,"d":65.16},{"k":13,"t":3.62,"d":64.92},{"k":13,"t":3.68,"d":65.14},{"k":13,"t":3.74,"d":64.96},{"k":13,"t":3.8,"d":65.08},{"k":13,"t":3.85,"d":64.74},{"k":13,"t":3.9,"d":65.3},{"k":13,"t":3.95,"d":64.7},{"k":13,"t":4,"d":65.28},{"k":13,"t":4.05,"d":64.64},{"k":13,"t":4.1,"d":65.26},{"k":13,"t":4.15,"d":64.62},{"k":13,"t":4.2,"d":65.22},{"k":13,"t":4.25,"d":64.66},{"k":13,"t":4.3,"d":65.2},{"k":13,"t":4.35,"d":64.66},{"k":13,"t":4.4,"d":65.22},{"k":13,"t":4.45,"d":64.6},{"k":13,"t":4.5,"d":65.14},{"k":13,"t":4.55,"d":64.58},{"k":13,"t":4.6,"d":65.1},{"k":13,"t":4.66,"d":64.8},{"k":13,"t":4.74,"d":64.94},{"k":13,"t":4.82,"d":64.78},{"k":13,"t":4.9,"d":64.92},{"k":13,"t":4.98,"d":64.8},{"k":13,"t":5.06,"d":64.84},{"k":13,"t":5.14,"d":64.72},{"k":13,"t":5.22,"d":64.84},{"k":13,"t":5.28,"d":64.52},{"k":13,"t":5.33,"d":65},{"k":13,"t":5.38,"d":64.5},{"k":13,"t":5.43,"d":64.98},{"k":13,"t":5.48,"d":64.54},{"k":13,"t":5.54,"d":64.82},{"k":13,"t":5.6,"d":64.62},{"k":13,"t":5.66,"d":64.8},{"k":13,"t":5.72,"d":64.48},{"k":13,"t":5.77,"d":64.92},{"k":13,"t":5.82,"d":64.48},{"k":13,"t":5.88,"d":64.86},{"k":13,"t":5.94,"d":64.58},{"k":13,"t":6,"d":64.42},
{"k":14,"t":0,"d":67.25},{"k":14,"t":0.15,"d":67.21},{"k":14,"t":0.3,"d":67.28},{"k":14,"t":0.45,"d":67.21},{"k":14,"t":0.6,"d":67.2},{"k":14,"t":0.75,"d":67.13},{"k":14,"t":0.9,"d":67.2},{"k":14,"t":1.05,"d":67.06},{"k":14,"t":1.2,"d":67.12},{"k":14,"t":1.35,"d":67.05},{"k":14,"t":1.5,"d":66.98},{"k":14,"t":1.65,"d":67.05},{"k":14,"t":1.8,"d":66.97},{"k":14,"t":1.95,"d":67.04},{"k":14,"t":2.1,"d":66.9},{"k":14,"t":2.25,"d":66.96},{"k":14,"t":2.4,"d":66.89},{"k":14,"t":2.55,"d":66.81},{"k":14,"t":2.7,"d":66.88},{"k":14,"t":2.85,"d":66.8},{"k":14,"t":3,"d":66.73},{"k":14,"t":3.12,"d":66.8},{"k":14,"t":3.24,"d":66.72},{"k":14,"t":3.36,"d":66.8},{"k":14,"t":3.48,"d":66.71},{"k":14,"t":3.6,"d":66.65},{"k":14,"t":3.72,"d":66.73},{"k":14,"t":3.84,"d":66.64},{"k":14,"t":3.92,"d":66.7},{"k":14,"t":3.96,"d":66.44},{"k":14,"t":4.01,"d":66.84},{"k":14,"t":4.06,"d":66.36},{"k":14,"t":4.11,"d":66.84},{"k":14,"t":4.16,"d":66.36},{"k":14,"t":4.21,"d":66.82},{"k":14,"t":4.26,"d":66.38},{"k":14,"t":4.31,"d":66.8},{"k":14,"t":4.36,"d":66.36},{"k":14,"t":4.41,"d":66.9},{"k":14,"t":4.46,"d":66.2},{"k":14,"t":4.51,"d":66.88},{"k":14,"t":4.56,"d":66.22},{"k":14,"t":4.61,"d":66.72},{"k":14,"t":4.66,"d":66.32},{"k":14,"t":4.71,"d":66.72},{"k":14,"t":4.76,"d":66.34},{"k":14,"t":4.82,"d":66.62},{"k":14,"t":4.9,"d":66.44},{"k":14,"t":4.98,"d":66.58},{"k":14,"t":5.02,"d":66.2},{"k":14,"t":5.06,"d":66.72},{"k":14,"t":5.1,"d":66.16},{"k":14,"t":5.14,"d":66.74},{"k":14,"t":5.19,"d":66.02},{"k":14,"t":5.24,"d":66.88},{"k":14,"t":5.29,"d":66},{"k":14,"t":5.34,"d":66.86},{"k":14,"t":5.39,"d":66.06},{"k":14,"t":5.44,"d":66.64},{"k":14,"t":5.49,"d":66.26},{"k":14,"t":5.54,"d":66.56},{"k":14,"t":5.59,"d":66.18},{"k":14,"t":5.64,"d":66.54},{"k":14,"t":5.7,"d":66.28},{"k":14,"t":5.78,"d":66.42},{"k":14,"t":5.86,"d":66.3},{"k":14,"t":5.94,"d":66.42},{"k":14,"t":5.98,"d":66.16},{"k":14,"t":6,"d":66.44},
{"k":15,"t":0,"d":69.11},{"k":15,"t":0.15,"d":69.07},{"k":15,"t":0.3,"d":69.14},{"k":15,"t":0.45,"d":69.07},{"k":15,"t":0.6,"d":69.06},{"k":15,"t":0.75,"d":68.99},{"k":15,"t":0.9,"d":69.06},{"k":15,"t":1.05,"d":68.92},{"k":15,"t":1.2,"d":68.98},{"k":15,"t":1.35,"d":68.91},{"k":15,"t":1.5,"d":68.84},{"k":15,"t":1.65,"d":68.91},{"k":15,"t":1.8,"d":68.82},{"k":15,"t":1.95,"d":68.89},{"k":15,"t":2.1,"d":68.76},{"k":15,"t":2.25,"d":68.83},{"k":15,"t":2.4,"d":68.75},{"k":15,"t":2.55,"d":68.69},{"k":15,"t":2.7,"d":68.76},{"k":15,"t":2.85,"d":68.68},{"k":15,"t":2.93,"d":68.5},{"k":15,"t":2.97,"d":68.72},{"k":15,"t":3.05,"d":68.62},{"k":15,"t":3.15,"d":68.7},{"k":15,"t":3.25,"d":68.6},{"k":15,"t":3.35,"d":68.69},{"k":15,"t":3.45,"d":68.59},{"k":15,"t":3.55,"d":68.62},{"k":15,"t":3.65,"d":68.52},{"k":15,"t":3.75,"d":68.64},{"k":15,"t":3.85,"d":68.5},{"k":15,"t":3.93,"d":68.62},{"k":15,"t":3.98,"d":68.36},{"k":15,"t":4.03,"d":68.8},{"k":15,"t":4.08,"d":68.2},{"k":15,"t":4.13,"d":68.8},{"k":15,"t":4.18,"d":68.18},{"k":15,"t":4.23,"d":68.8},{"k":15,"t":4.28,"d":68.2},{"k":15,"t":4.33,"d":68.78},{"k":15,"t":4.38,"d":68.2},{"k":15,"t":4.43,"d":68.76},{"k":15,"t":4.48,"d":68.2},{"k":15,"t":4.53,"d":68.68},{"k":15,"t":4.58,"d":68.22},{"k":15,"t":4.63,"d":68.52},{"k":15,"t":4.7,"d":68.36},{"k":15,"t":4.78,"d":68.48},{"k":15,"t":4.86,"d":68.34},{"k":15,"t":4.94,"d":68.46},{"k":15,"t":5.02,"d":68.28},{"k":15,"t":5.1,"d":68.42},{"k":15,"t":5.18,"d":68.24},{"k":15,"t":5.26,"d":68.42},{"k":15,"t":5.34,"d":68.26},{"k":15,"t":5.42,"d":68.4},{"k":15,"t":5.48,"d":68.2},{"k":15,"t":5.54,"d":68.36},{"k":15,"t":5.6,"d":68.12},{"k":15,"t":5.66,"d":68.38},{"k":15,"t":5.72,"d":68.12},{"k":15,"t":5.78,"d":68.4},{"k":15,"t":5.84,"d":68.1},{"k":15,"t":5.9,"d":68.4},{"k":15,"t":5.95,"d":68.12},{"k":15,"t":6,"d":68.3}
]},
"encoding":{
"x":{"field":"t","type":"quantitative","scale":{"domain":[0,6],"nice":false,"zero":false},
"axis":{"orient":"top","values":[0,0.16667,0.33333,0.5,0.66667,0.83333,1,1.16667,1.33333,1.5,1.66667,1.83333,2,2.16667,2.33333,2.5,2.66667,2.83333,3,3.16667,3.33333,3.5,3.66667,3.83333,4,4.16667,4.33333,4.5,4.66667,4.83333,5,5.16667,5.33333,5.5,5.66667,5.83333,6],
"tickCount":60,"tickMinStep":0.1,"labelExpr":"abs(datum.value - round(datum.value)) < 0.01 && round(datum.value) % 3 == 0 ? format(datum.value, 'd') : ''","labelFlush":false,"labelOverlap":false,"labelFontSize":46,"labelPadding":17,"tickSize":0,"tickWidth":2,"domainWidth":2,
"title":"TIME \u00a0(MINUTES)","titleFontSize":46,"titleX":479,"titleY":-108,"titleBaseline":"alphabetic","titleAlign":"center",
"encoding":{"ticks":{"y2":{"condition":{"test":"abs(datum.value - round(datum.value)) < 0.01","value":13},"value":7}}}}},
"y":{"field":"d","type":"quantitative","scale":{"domain":[30,70],"nice":false,"zero":false,"reverse":true},
"axis":{"orient":"left","values":[30,50,70],"format":"d","labelFontSize":46,"labelPadding":13,"tickSize":0,"tickWidth":2,"domainWidth":2,
"title":"DISTANCE \u00a0(DEGREES)","titleFontSize":43,"titleAngle":270,"titleX":-116,"titleY":492,"titleBaseline":"middle","titleAlign":"center",
"encoding":{"ticks":{"x2":{"value":30}}}}}
},
"layer":[
{"mark":{"type":"line","color":"black","strokeWidth":2,"strokeJoin":"round"},"encoding":{"detail":{"field":"k","type":"nominal"}}},
{"data":{"values":[{"t":2.037,"d":30.08},{"t":4.086,"d":69.66}]},"mark":{"type":"line","color":"black","strokeWidth":2},"encoding":{}},
{"data":{"values":[{"t":6,"d":30,"d2":70}]},"mark":{"type":"rule","color":"black","strokeWidth":2},"encoding":{"y2":{"field":"d2"}}},
{"data":{"values":[{"t":2.628,"d":39.99,"label":"S"}]},"mark":{"type":"text","fontSize":38,"font":"Liberation Sans","color":"black"},"encoding":{"text":{"field":"label"}}}
]
}
